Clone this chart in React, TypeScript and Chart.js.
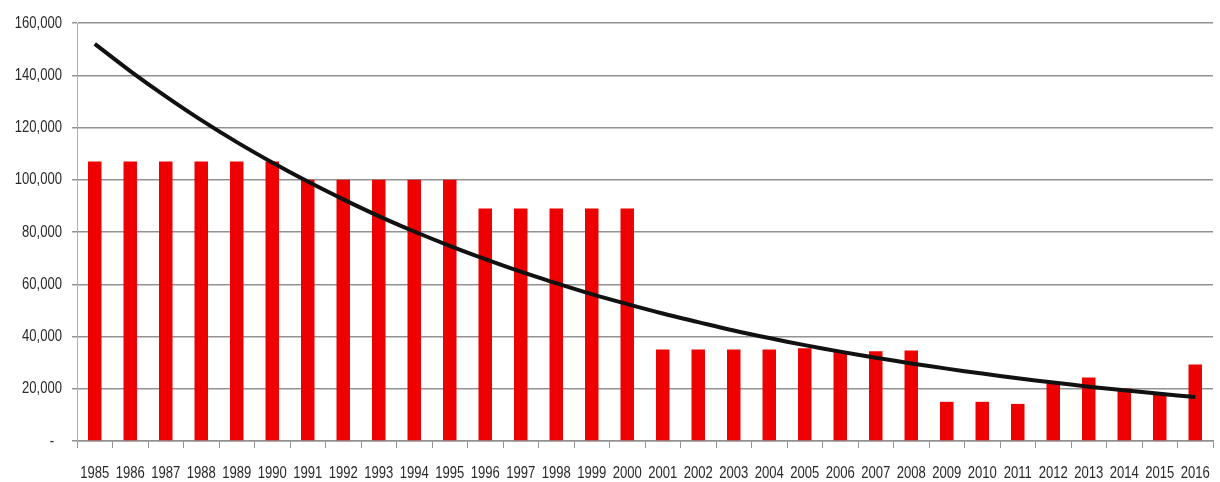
import React, { useEffect, useRef } from "react";
import { Chart, registerables } from "chart.js";

Chart.register(...registerables);

// Years on the category axis
const years: string[] = [
  "1985", "1986", "1987", "1988", "1989", "1990", "1991", "1992",
  "1993", "1994", "1995", "1996", "1997", "1998", "1999", "2000",
  "2001", "2002", "2003", "2004", "2005", "2006", "2007", "2008",
  "2009", "2010", "2011", "2012", "2013", "2014", "2015", "2016",
];

// Yearly amounts (bars)
const amounts: number[] = [
  107000, 107000, 107000, 107000, 107000, 107000, 100000, 100000,
  100000, 100000, 100000, 89000, 89000, 89000, 89000, 89000,
  35000, 35000, 35000, 35000, 35500, 34200, 34400, 34600,
  15000, 15000, 14200, 22000, 24300, 20100, 18200, 29300,
];

// Exponential trend line values
const trend: number[] = [
  152000, 141600, 131900, 122800, 114400, 106600, 99300, 92500,
  86100, 80200, 74700, 69600, 64800, 60400, 56200, 52400,
  48800, 45500, 42300, 39400, 36700, 34200, 31900, 29700,
  27700, 25800, 24000, 22400, 20800, 19400, 18100, 16800,
];

// Value axis settings
const yMin = 0;
const yMax = 160000;
const yStep = 20000;

const FONT = "17px 'Liberation Sans', Arial, sans-serif";
const TEXT_COLOR = "#2a2a2a";
const SQUEEZE = 0.77; // narrow the glyphs horizontally
const GRID = "#929292";

const formatValue = (n: number): string =>
  n === 0 ? "-" : n.toLocaleString("en-US");

// Draws the axis labels with horizontally condensed glyphs
const narrowLabels = {
  id: "narrowLabels",
  afterDraw(chart: any) {
    const ctx: CanvasRenderingContext2D = chart.ctx;
    const xs = chart.scales.x;
    const ys = chart.scales.y;
    ctx.save();
    ctx.font = FONT;
    ctx.fillStyle = TEXT_COLOR;
    ctx.textBaseline = "middle";

    // category labels
    ctx.textAlign = "center";
    const labelY = xs.bottom - 9;
    years.forEach((yr, i) => {
      const px = xs.getPixelForTick(i);
      ctx.save();
      ctx.translate(px, labelY);
      ctx.scale(SQUEEZE, 1);
      ctx.fillText(yr, 0, 0);
      ctx.restore();
    });

    // value labels
    ys.ticks.forEach((t: any, i: number) => {
      const py = ys.getPixelForTick(i);
      const txt = formatValue(Number(t.value));
      ctx.save();
      if (t.value === 0) {
        ctx.textAlign = "center";
        ctx.translate(ys.right - 25, py);
      } else {
        ctx.textAlign = "right";
        ctx.translate(ys.right - 15, py);
      }
      ctx.scale(SQUEEZE, 1);
      ctx.fillText(txt, 0, 0);
      ctx.restore();
    });
    ctx.restore();
  },
};

export default function App() {
  const canvasRef = useRef<HTMLCanvasElement | null>(null);

  useEffect(() => {
    const canvas = canvasRef.current;
    if (!canvas) return;
    const chart = new Chart(canvas, {
      type: "bar",
      data: {
        labels: years,
        datasets: [
          {
            type: "line",
            data: trend,
            borderColor: "#111111",
            borderWidth: 4,
            pointRadius: 0,
            tension: 0.4,
            fill: false,
            order: 0,
          },
          {
            type: "bar",
            data: amounts,
            backgroundColor: "#ee0000",
            borderWidth: 0,
            barPercentage: 0.38,
            categoryPercentage: 1.0,
            order: 1,
          },
        ],
      },
      options: {
        responsive: false,
        animation: false,
        layout: { padding: { top: 23, right: 7, bottom: 0, left: 0 } },
        plugins: {
          legend: { display: false },
          tooltip: { enabled: false },
        },
        scales: {
          x: {
            offset: true,
            grid: {
              offset: true,
              drawOnChartArea: false,
              drawTicks: true,
              tickLength: 7,
              color: GRID,
              lineWidth: 1,
            },
            border: { display: true, color: GRID, width: 1.5 },
            ticks: { display: false, autoSkip: false },
            afterFit: (scale: any) => {
              scale.height = 41;
            },
          },
          y: {
            min: yMin,
            max: yMax,
            grid: {
              color: GRID,
              lineWidth: 1.5,
              tickLength: 5,
              drawTicks: true,
            },
            border: { display: true, color: "#b0b0b0", width: 1 },
            ticks: { display: false, stepSize: yStep },
            afterFit: (scale: any) => {
              scale.width = 77;
            },
          },
        },
      },
      plugins: [narrowLabels],
    });
    return () => chart.destroy();
  }, []);

  return (
    <div style={{ position: "fixed", left: 0, top: 0, width: 1220, height: 482, background: "#ffffff" }}>
      <canvas ref={canvasRef} width={1220} height={482} />
    </div>
  );
}
